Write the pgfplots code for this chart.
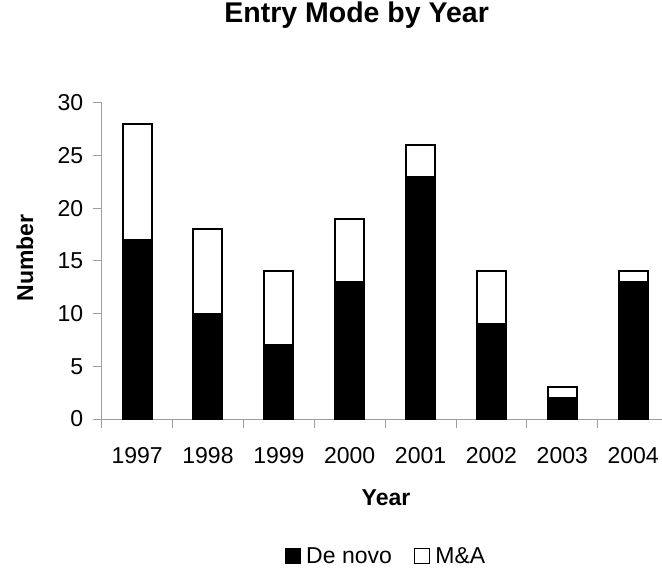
\documentclass[border=0pt]{standalone}
\usepackage{fontspec}
\setmainfont{Liberation Sans}
\usepackage{pgfplots}
\pgfplotsset{compat=1.18}
\definecolor{axgray}{gray}{0.62}
\begin{document}
\begin{tikzpicture}
\begin{axis}[
  scale only axis,
  width=560.3pt, height=316.3pt,
  xmin=-0.5, xmax=7.407, ymin=0, ymax=30,
  ybar stacked, bar width=29pt,
  axis lines=left,
  axis line style={draw=axgray, line width=1pt, -},
  tick align=outside, tick pos=left,
  major tick length=9pt,
  font=\fontsize{23}{27}\selectfont,
  /pgf/number format/assume math mode=true,
  ytick={0,5,10,15,20,25,30},
  ytick style={draw=axgray, line width=1pt},
  yticklabel style={xshift=-6pt},
  xtick={0,1,2,3,4,5,6,7},
  xticklabels={1997,1998,1999,2000,2001,2002,2003,2004},
  xticklabel style={yshift=-16pt},
  xtick style={draw=none},
  extra x ticks={-0.5,0.5,1.5,2.5,3.5,4.5,5.5,6.5},
  extra x tick labels={},
  extra x tick style={xtick style={draw=axgray, line width=1pt}},
  title={Entry Mode by Year},
  title style={at={(axis description cs:0.455,1.236)}, anchor=base, font=\fontsize{28.5}{34}\selectfont\bfseries},
  xlabel={Year},
  xlabel style={at={(axis description cs:0.5074,-0.272)}, anchor=base, font=\fontsize{23}{27}\selectfont\bfseries},
  ylabel={Number},
  ylabel style={at={(axis description cs:-0.1226,0.509)}, anchor=base, font=\fontsize{23}{27}\selectfont\bfseries},
  legend style={draw=none, fill=none, legend columns=2, at={(axis description cs:0.5074,-0.433)}, anchor=center,
    font=\fontsize{23}{27}\selectfont,
    /tikz/every odd column/.append style={column sep=3pt},
    /tikz/every even column/.append style={column sep=20pt}},
  legend image code/.code={\draw[#1, line width=1.5pt] (0pt,-7.5pt) rectangle (15pt,7.5pt);},
]
\addplot[draw=black, fill=black, line width=2pt] coordinates {(0,17) (1,10) (2,7) (3,13) (4,23) (5,9) (6,2) (7,13)};
\addplot[draw=black, fill=white, line width=2pt] coordinates {(0,11) (1,8) (2,7) (3,6) (4,3) (5,5) (6,1) (7,1)};
\legend{De novo, M\&A}
\end{axis}
\pgfresetboundingbox
\useasboundingbox (-101.7pt,-154pt) rectangle (560.3pt,419pt);
\end{tikzpicture}
\end{document}
